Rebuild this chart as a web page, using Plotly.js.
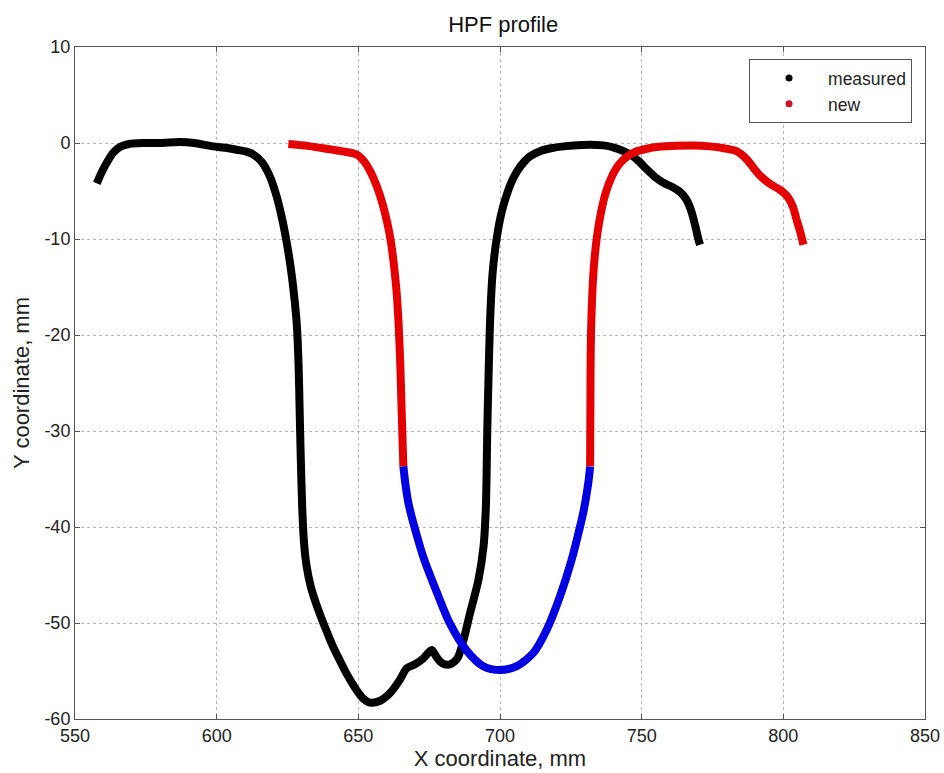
<!DOCTYPE html>
<html>
<head>
<meta charset="utf-8">
<script src="https://cdn.plot.ly/plotly-3.0.1.min.js"></script>
<style>html,body{margin:0;padding:0;background:#fff;}#chart{width:944px;height:773px;}</style>
</head>
<body>
<div id="chart"></div>
<script>
// measured profile (black)
var measuredX = [557.7, 559.5, 561.5, 563.5, 566, 569, 574, 580, 587, 592, 597.7, 603, 607, 610.5, 613, 616, 618.5, 620.8, 622.8, 624.5, 626, 627.3, 628.3, 628.9, 629.3, 629.7, 630.2, 630.8, 631.7, 633.2, 635.1, 637.1, 639, 641, 643.3, 645.9, 649.4, 651.8, 654.1, 657.7, 661.2, 664.7, 667.1, 670, 672.9, 675.9, 677.3, 678.8, 680.6, 682.4, 684, 685.3, 687.1, 689.4, 692.4, 694.2, 695, 695.3, 695.5, 695.9, 696.5, 697.4, 698.8, 700.5, 702.6, 704.8, 707.3, 710.5, 714.1, 718, 722.4, 729, 736.5, 740.5, 744, 746.5, 749, 752, 755, 758, 761, 763.6, 765.8, 767.4, 768.8, 770, 770.6];
var measuredY = [-4.2, -3, -1.9, -1.0, -0.4, -0.1, 0, 0, 0.1, 0, -0.3, -0.5, -0.7, -0.9, -1.2, -2, -3.3, -5.2, -7.5, -10, -12.7, -15.8, -19, -23, -28, -33, -38, -41.5, -44, -46.2, -48, -49.6, -51, -52.4, -53.8, -55.3, -57, -57.9, -58.3, -58.1, -57.3, -55.9, -54.7, -54.3, -53.7, -52.8, -53.4, -54, -54.3, -54.3, -54, -53.5, -51.8, -49, -45.5, -42, -38, -34, -30, -25, -18.5, -13.5, -10, -7.3, -5.2, -3.6, -2.4, -1.4, -0.85, -0.55, -0.35, -0.2, -0.25, -0.5, -0.9, -1.3, -1.9, -2.8, -3.6, -4.2, -4.6, -5.1, -5.9, -7.0, -8.5, -10.0, -10.6];

// new profile, left flank (red)
var newLeftX = [625.3, 632, 638.8, 644, 649.4, 652, 654.3, 656.5, 658.5, 660.2, 661.5, 662.6, 663.5, 664.2, 664.8, 665.3, 665.9];
var newLeftY = [-0.1, -0.3, -0.6, -0.85, -1.2, -1.9, -3, -4.5, -6.3, -8.3, -10.3, -12.8, -15.5, -18.8, -23, -28, -33.7];

// new profile, bottom arc (blue)
var arcX = [665.9, 666.6, 667.6, 668.8, 670, 672.9, 677.7, 682.4, 688.3, 694.1, 700, 705.9, 711.8, 716.5, 721.2, 725.3, 728.3, 729.6, 730.6, 731.3, 731.8];
var arcY = [-33.7, -35.5, -37.4, -38.9, -40.2, -43.1, -46.8, -50.1, -52.9, -54.5, -54.9, -54.5, -53.1, -50.7, -47.2, -43.4, -39.9, -38.2, -36.5, -35.1, -33.7];

// new profile, right flank (red)
var newRightX = [731.8, 731.9, 732.0, 732.4, 733.1, 734.2, 735.6, 737.3, 739.3, 741.8, 744.5, 747.5, 751.8, 756, 762.4, 768, 774.1, 779, 783.6, 787.1, 789.5, 791.8, 795, 798.9, 801.5, 803.3, 804.7, 806, 807.1];
var newRightY = [-33.7, -28, -22, -17, -13, -9.8, -7.3, -5.2, -3.6, -2.3, -1.5, -0.95, -0.6, -0.4, -0.28, -0.25, -0.35, -0.55, -0.87, -1.7, -2.6, -3.4, -4.2, -4.9, -5.6, -6.6, -8, -9.3, -10.6];

var legendNames = ['measured', 'new'];
var xTicks = [550, 600, 650, 700, 750, 800, 850];
var yTicks = [10, 0, -10, -20, -30, -40, -50, -60];

var lw = 8;
var sm = 0.8;
var traces = [
  {x: measuredX, y: measuredY, mode: 'lines', line: {color: '#000000', width: lw, shape: 'spline', smoothing: sm}, showlegend: false, hoverinfo: 'skip'},
  {x: newLeftX, y: newLeftY, mode: 'lines', line: {color: '#e40000', width: lw, shape: 'spline', smoothing: sm}, showlegend: false, hoverinfo: 'skip'},
  {x: newRightX, y: newRightY, mode: 'lines', line: {color: '#e40000', width: lw, shape: 'spline', smoothing: sm}, showlegend: false, hoverinfo: 'skip'},
  {x: arcX, y: arcY, mode: 'lines', line: {color: '#0000e0', width: lw, shape: 'spline', smoothing: sm}, showlegend: false, hoverinfo: 'skip'},
  {x: [null], y: [null], mode: 'markers', name: legendNames[0], marker: {color: '#000000', size: 7}},
  {x: [null], y: [null], mode: 'markers', name: legendNames[1], marker: {color: '#c8102e', size: 7}}
];

var fam = 'Liberation Sans, Arial, sans-serif';
var tickFont = {family: fam, size: 18, color: '#222'};
var titleFont = {family: fam, size: 22, color: '#222'};
var layout = {
  width: 944, height: 773,
  margin: {l: 75, r: 19, t: 47, b: 54},
  paper_bgcolor: '#ffffff', plot_bgcolor: '#ffffff',
  title: {text: 'HPF profile', font: {family: fam, size: 22, color: '#111'}, x: 0.533, xanchor: 'center', y: 0.968, yanchor: 'middle'},
  font: tickFont,
  showlegend: true,
  legend: {x: 0.793, y: 0.982, xanchor: 'left', yanchor: 'top', bgcolor: '#ffffff', bordercolor: '#555', borderwidth: 1, font: {family: fam, size: 17.5, color: '#222'}, tracegroupgap: 0, itemwidth: 68},
  xaxis: {
    range: [550, 850], tickvals: xTicks, ticktext: xTicks.map(String),
    showgrid: true, gridcolor: '#b5b5b5', griddash: 'dot', gridwidth: 1,
    zeroline: false, showline: true, linecolor: '#555', linewidth: 1, mirror: 'ticks',
    ticks: 'inside', ticklen: 5, tickcolor: '#555',
    tickfont: tickFont,
    title: {text: 'X coordinate, mm', font: titleFont, standoff: 4}
  },
  yaxis: {
    range: [-60, 10], tickvals: yTicks, ticktext: yTicks.map(String),
    showgrid: true, gridcolor: '#b5b5b5', griddash: 'dot', gridwidth: 1,
    zeroline: false, showline: true, linecolor: '#555', linewidth: 1, mirror: 'ticks',
    ticks: 'inside', ticklen: 5, tickcolor: '#555',
    tickfont: tickFont,
    title: {text: 'Y coordinate, mm', font: titleFont, standoff: 8}
  }
};

Plotly.newPlot('chart', traces, layout, {displayModeBar: false, staticPlot: true});
</script>
</body>
</html>
